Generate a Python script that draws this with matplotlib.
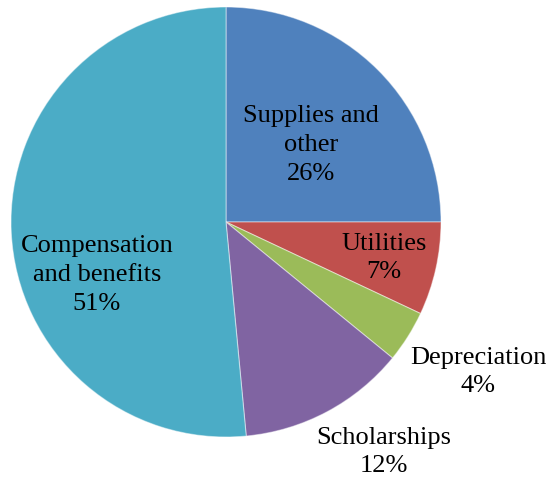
import matplotlib
matplotlib.use("Agg")
import matplotlib.pyplot as plt

plt.rcParams['font.family'] = ['Liberation Serif', 'DejaVu Serif']

categories = ["Supplies and\nother", "Utilities", "Depreciation", "Scholarships", "Compensation\nand benefits"]
values = [25.0, 7.0, 3.9, 12.6, 51.5]
pct_labels = ["26%", "7%", "4%", "12%", "51%"]
colors = ["#4F81BD", "#C0504D", "#9BBB59", "#8064A2", "#4BACC6"]

# label centres in data units (pie radius = 1)
label_pos = [(0.395, 0.358), (0.735, -0.167), (1.172, -0.698), (0.735, -1.07), (-0.60, -0.247)]

fig = plt.figure(figsize=(5.48, 4.78), dpi=100)
ax = fig.add_axes([11 / 548, (478 - 222 - 215) / 478, 430 / 548, 430 / 478])

ax.pie(values, colors=colors, startangle=90, counterclock=False, radius=1,
       wedgeprops=dict(edgecolor=(1, 1, 1, 0.45), linewidth=0.8))
ax.set_xlim(-1, 1)
ax.set_ylim(-1, 1)
ax.set_aspect("equal")

for name, pct, (x, y) in zip(categories, pct_labels, label_pos):
    ax.text(x, y, name + "\n" + pct, ha="center", va="center", multialignment="center",
            fontsize=19, linespacing=1.4, color="black", clip_on=False)

ax.axis("off")
fig.savefig("out.png", dpi=100)
